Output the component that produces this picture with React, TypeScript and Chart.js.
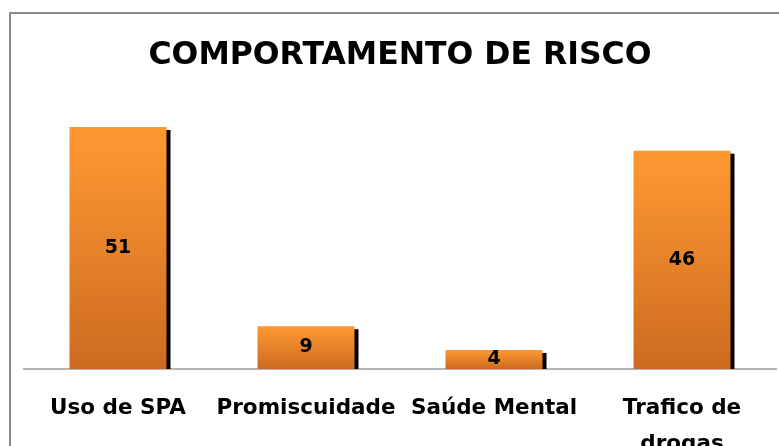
import React, { useEffect, useRef } from "react";
import { Chart, registerables } from "chart.js";

Chart.register(...registerables);

const titleText = "COMPORTAMENTO DE RISCO";
const categories: (string | string[])[] = [
  "Uso de SPA",
  "Promiscuidade",
  "Saúde Mental",
  ["Trafico de", "drogas"],
];
const values = [51, 9, 4, 46];
const yMin = 0;
const yMax = 60;

const FONT = "'DejaVu Sans', sans-serif";
const TOP_COLOR = "#FC9631";
const BOTTOM_COLOR = "#CC6B21";

const shadowPlugin = {
  id: "barShadow",
  beforeDatasetsDraw(chart: any) {
    const { ctx, chartArea } = chart;
    const meta = chart.getDatasetMeta(0);
    ctx.save();
    ctx.beginPath();
    ctx.rect(chartArea.left, chartArea.top, chartArea.right - chartArea.left, chartArea.bottom - chartArea.top);
    ctx.clip();
    ctx.fillStyle = "#000000";
    meta.data.forEach((bar: any) => {
      const p = bar.getProps(["x", "y", "base", "width"], true);
      ctx.fillRect(p.x - p.width / 2 + 4, p.y + 3, p.width, p.base - p.y);
    });
    ctx.restore();
  },
};

const valueLabelPlugin = {
  id: "valueLabels",
  afterDatasetsDraw(chart: any) {
    const { ctx } = chart;
    const meta = chart.getDatasetMeta(0);
    ctx.save();
    ctx.font = `bold 19px ${FONT}`;
    ctx.fillStyle = "#000000";
    ctx.textAlign = "center";
    ctx.textBaseline = "middle";
    meta.data.forEach((bar: any, i: number) => {
      const p = bar.getProps(["x", "y", "base"], true);
      ctx.fillText(String(values[i]), p.x, (p.y + p.base) / 2);
    });
    ctx.restore();
  },
};

export default function App() {
  const canvasRef = useRef<HTMLCanvasElement | null>(null);

  useEffect(() => {
    if (!canvasRef.current) return;
    const chart = new Chart(canvasRef.current, {
      type: "bar",
      data: {
        labels: categories,
        datasets: [
          {
            data: values,
            backgroundColor: (c: any) => {
              const ch = c.chart;
              const { chartArea, scales } = ch;
              if (!chartArea || !scales || !scales.y || c.type !== "data") return TOP_COLOR;
              const v = c.raw as number;
              const yTop = scales.y.getPixelForValue(v);
              const yBase = scales.y.getPixelForValue(0);
              if (!isFinite(yTop) || !isFinite(yBase) || yTop === yBase) return TOP_COLOR;
              const g = ch.ctx.createLinearGradient(0, yTop, 0, yBase);
              g.addColorStop(0, TOP_COLOR);
              g.addColorStop(0.12, "#FA9430");
              g.addColorStop(1, BOTTOM_COLOR);
              return g;
            },
            borderWidth: 0,
            categoryPercentage: 0.516,
            barPercentage: 1,
          },
        ],
      },
      options: {
        responsive: false,
        animation: false,
        devicePixelRatio: 1,
        layout: { padding: { left: 24, right: 3, top: 0, bottom: 0 } },
        plugins: {
          legend: { display: false },
          tooltip: { enabled: false },
          title: {
            display: true,
            text: titleText,
            color: "#000000",
            font: { family: FONT, size: 31.5, weight: "bold", lineHeight: 1.2 },
            padding: { top: 36.5, bottom: 10 },
          },
        },
        scales: {
          x: {
            grid: { display: false, drawTicks: false },
            border: { display: true, color: "#b4b4b4", width: 2 },
            ticks: {
              color: "#000000",
              font: { family: FONT, size: 21.5, weight: "bold", lineHeight: 1.7 },
              padding: 21,
              maxRotation: 0,
              minRotation: 0,
              autoSkip: false,
            },
          },
          y: {
            display: false,
            min: yMin,
            max: yMax,
          },
        },
      },
      plugins: [shadowPlugin, valueLabelPlugin],
    });
    return () => chart.destroy();
  }, []);

  return (
    <div
      style={{
        position: "fixed",
        left: 0,
        top: 0,
        width: 779,
        height: 446,
        overflow: "hidden",
        background: "#ffffff",
      }}
    >
      <div
        style={{
          position: "absolute",
          left: 9,
          top: 12,
          width: 1000,
          height: 600,
          borderLeft: "2px solid #8a8a8a",
          borderTop: "2px solid #8a8a8a",
        }}
      />
      <canvas
        ref={canvasRef}
        width={779}
        height={484}
        style={{ position: "absolute", left: 0, top: 0, display: "block" }}
      />
    </div>
  );
}
